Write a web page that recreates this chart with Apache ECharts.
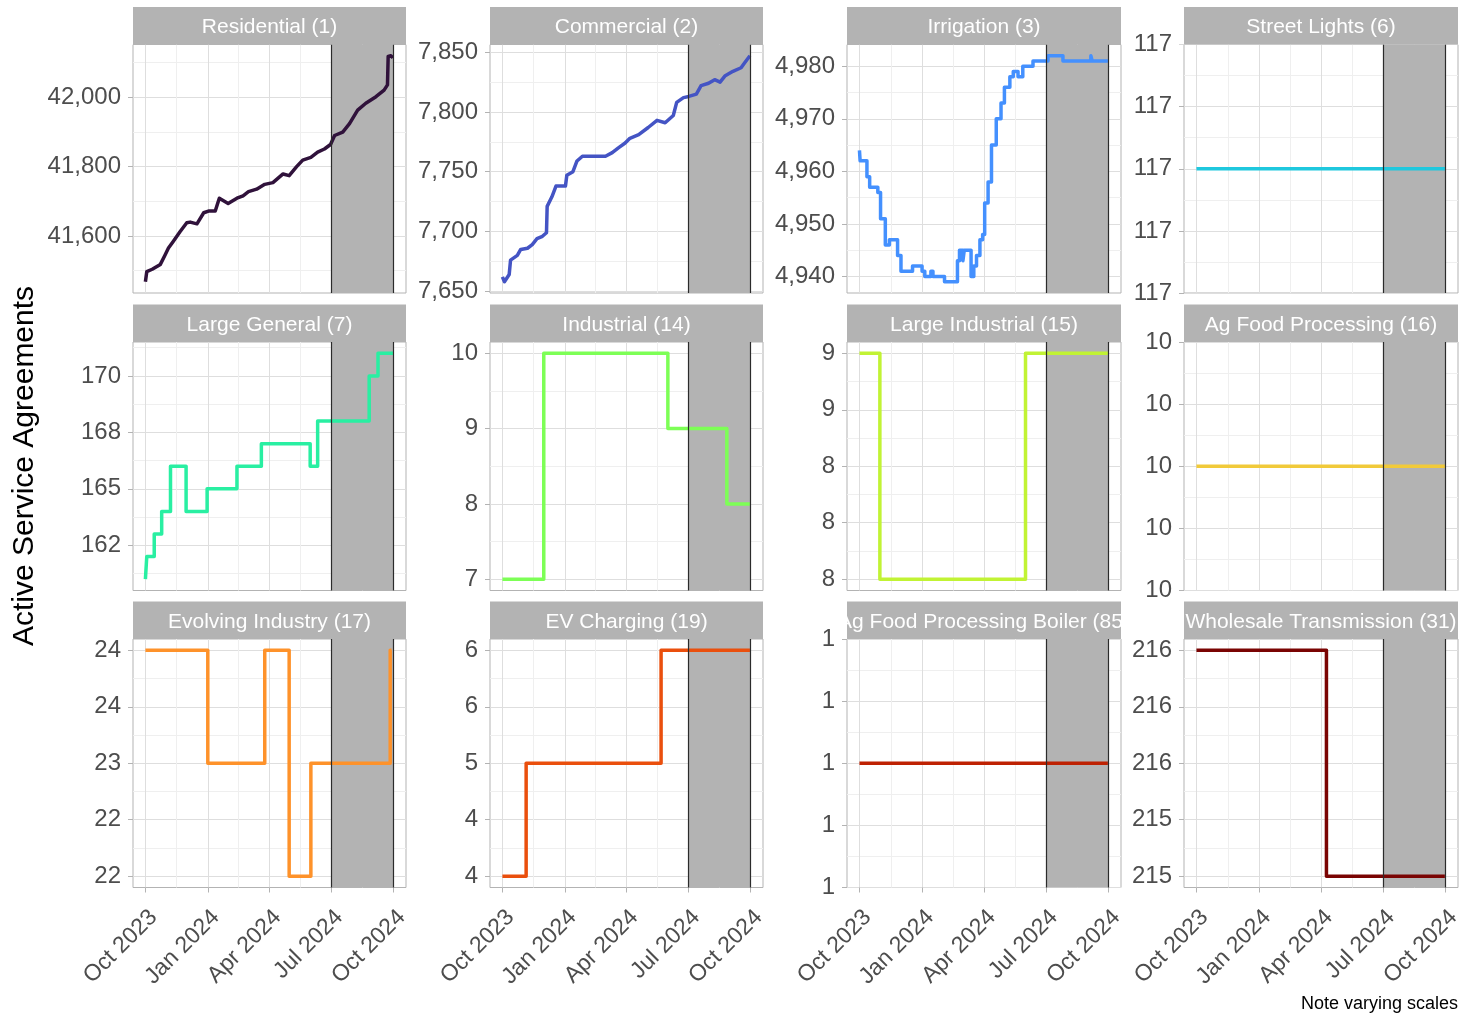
<!DOCTYPE html>
<html>
<head>
<meta charset="utf-8">
<title>Active Service Agreements</title>
<script src="https://cdn.jsdelivr.net/npm/echarts@6/dist/echarts.min.js"></script>
<style>
  html, body { margin: 0; padding: 0; background: #fff; }
  #chart { width: 1459px; height: 1015px; }
</style>
</head>
<body>
<div id="chart"></div>
<script>
// 每个费率类别的有效服务协议数（从图上读取的估值）
let residentialDates = ['2023-10-01', '2023-10-03', '2023-10-11', '2023-10-23', '2023-10-30', '2023-11-04', '2023-11-11', '2023-11-21', '2023-12-01', '2023-12-06', '2023-12-16', '2023-12-26', '2024-01-02', '2024-01-12', '2024-01-18', '2024-01-31', '2024-02-13', '2024-02-22', '2024-03-01', '2024-03-13', '2024-03-25', '2024-04-06', '2024-04-21', '2024-04-30', '2024-05-11', '2024-05-20', '2024-06-01', '2024-06-11', '2024-06-21', '2024-06-30', '2024-07-06', '2024-07-18', '2024-07-28', '2024-08-09', '2024-08-21', '2024-09-05', '2024-09-17', '2024-09-22', '2024-09-23', '2024-09-27', '2024-09-30']
let residentialValues = [41468, 41497, 41504, 41518, 41545, 41565, 41584, 41612, 41638, 41640, 41635, 41667, 41672, 41672, 41709, 41694, 41709, 41716, 41728, 41735, 41749, 41754, 41779, 41774, 41800, 41819, 41827, 41842, 41851, 41864, 41890, 41900, 41924, 41963, 41983, 42002, 42021, 42036, 42118, 42120, 42114]

let commercialDates = ['2023-10-01', '2023-10-04', '2023-10-11', '2023-10-13', '2023-10-23', '2023-10-28', '2023-11-07', '2023-11-14', '2023-11-21', '2023-11-29', '2023-12-05', '2023-12-06', '2023-12-13', '2023-12-19', '2024-01-02', '2024-01-04', '2024-01-13', '2024-01-19', '2024-01-27', '2024-02-05', '2024-02-15', '2024-03-01', '2024-03-11', '2024-03-20', '2024-03-30', '2024-04-06', '2024-04-19', '2024-05-03', '2024-05-16', '2024-05-28', '2024-06-09', '2024-06-14', '2024-06-24', '2024-07-02', '2024-07-13', '2024-07-20', '2024-07-31', '2024-08-09', '2024-08-17', '2024-08-24', '2024-09-05', '2024-09-17', '2024-09-22', '2024-09-30']
let commercialValues = [7662, 7658, 7664, 7676, 7680, 7685, 7686, 7689, 7694, 7696, 7699, 7721, 7729, 7738, 7738, 7747, 7750, 7759, 7763, 7763, 7763, 7763, 7766, 7770, 7774, 7778, 7781, 7787, 7793, 7791, 7797, 7808, 7812, 7813, 7815, 7822, 7824, 7827, 7825, 7830, 7834, 7837, 7841, 7847]

let irrigationDates = ['2023-10-01', '2023-10-02', '2023-10-12', '2023-10-16', '2023-10-28', '2023-11-01', '2023-11-08', '2023-11-14', '2023-11-26', '2023-12-01', '2023-12-18', '2024-01-01', '2024-01-05', '2024-01-14', '2024-01-17', '2024-02-03', '2024-02-22', '2024-02-25', '2024-03-01', '2024-03-03', '2024-03-13', '2024-03-17', '2024-03-21', '2024-03-26', '2024-03-30', '2024-04-02', '2024-04-07', '2024-04-12', '2024-04-19', '2024-04-26', '2024-05-01', '2024-05-09', '2024-05-14', '2024-05-21', '2024-05-28', '2024-06-12', '2024-07-04', '2024-07-26', '2024-09-05', '2024-09-07', '2024-09-30']
let irrigationValues = [4964, 4962, 4959, 4957, 4956, 4951, 4946, 4947, 4944, 4941, 4942, 4941, 4940, 4941, 4940, 4939, 4943, 4945, 4943, 4945, 4940, 4942, 4944, 4947, 4948, 4954, 4958, 4965, 4970, 4973, 4976, 4978, 4979, 4978, 4980, 4981, 4982, 4981, 4982, 4981, 4981]

let streetLightsDates = ['2023-10-01', '2024-09-30']
let streetLightsValues = [117, 117]

let largeGeneralDates = ['2023-10-01', '2023-10-03', '2023-10-14', '2023-10-25', '2023-11-07', '2023-11-30', '2023-12-31', '2024-02-13', '2024-03-20', '2024-05-31', '2024-06-11', '2024-08-26', '2024-09-08', '2024-09-30']
let largeGeneralValues = [161, 162, 163, 164, 166, 164, 165, 166, 167, 166, 168, 170, 171, 171]

let industrialDates = ['2023-10-01', '2023-12-01', '2024-06-01', '2024-08-27', '2024-09-30']
let industrialValues = [7, 10, 9, 8, 8]

let largeIndustrialDates = ['2023-10-01', '2023-10-31', '2024-06-01', '2024-09-30']
let largeIndustrialValues = [9, 8, 9, 9]

let agFoodDates = ['2023-10-01', '2024-09-30']
let agFoodValues = [10, 10]

let evolvingDates = ['2023-10-01', '2024-01-01', '2024-03-25', '2024-04-30', '2024-06-01', '2024-09-26', '2024-09-28']
let evolvingValues = [24, 23, 24, 22, 23, 24, 24]

let evChargingDates = ['2023-10-01', '2023-11-05', '2024-05-22', '2024-09-30']
let evChargingValues = [4, 5, 6, 6]

let agBoilerDates = ['2023-10-01', '2024-09-30']
let agBoilerValues = [1, 1]

let wholesaleDates = ['2023-10-01', '2024-04-09', '2024-09-30']
let wholesaleValues = [216, 215, 215]

// 分面标题、颜色、刻度
let panelNames = ['Residential (1)', 'Commercial (2)', 'Irrigation (3)', 'Street Lights (6)', 'Large General (7)', 'Industrial (14)', 'Large Industrial (15)', 'Ag Food Processing (16)', 'Evolving Industry (17)', 'EV Charging (19)', 'Ag Food Processing Boiler (85)', 'Wholesale Transmission (31)']
let panelColors = ['#30123B', '#4454C4', '#4490FE', '#1FC8DE', '#29EFA2', '#7DFF56', '#C1F334', '#F1CA3A', '#FE922A', '#EA4F0D', '#BE2102', '#7A0403']
let panelStep = [false, false, true, true, true, true, true, true, true, true, true, true]

let yTicks = [
  [41600, 41800, 42000],
  [7650, 7700, 7750, 7800, 7850],
  [4940, 4950, 4960, 4970, 4980],
  [116.5, 116.75, 117, 117.25, 117.5],
  [162.5, 165, 167.5, 170],
  [7, 8, 9, 10],
  [8, 8.25, 8.5, 8.75, 9],
  [9.5, 9.75, 10, 10.25, 10.5],
  [22, 22.5, 23, 23.5, 24],
  [4, 4.5, 5, 5.5, 6],
  [0.5, 0.75, 1, 1.25, 1.5],
  [215, 215.25, 215.5, 215.75, 216]
]
let yTickLabels = [
  ['41,600', '41,800', '42,000'],
  ['7,650', '7,700', '7,750', '7,800', '7,850'],
  ['4,940', '4,950', '4,960', '4,970', '4,980'],
  ['117', '117', '117', '117', '117'],
  ['162', '165', '168', '170'],
  ['7', '8', '9', '10'],
  ['8', '8', '8', '9', '9'],
  ['10', '10', '10', '10', '10'],
  ['22', '22', '23', '24', '24'],
  ['4', '4', '5', '6', '6'],
  ['1', '1', '1', '1', '1'],
  ['215', '215', '216', '216', '216']
]

let xTickDates = ['2023-10-01', '2024-01-01', '2024-04-01', '2024-07-01', '2024-10-01']
let xTickLabels = ['Oct 2023', 'Jan 2024', 'Apr 2024', 'Jul 2024', 'Oct 2024']
let xRangeDates = ['2023-10-01', '2024-10-01']
let shadeDates = ['2024-07-01', '2024-10-01']

let panelDates = [residentialDates, commercialDates, irrigationDates, streetLightsDates, largeGeneralDates, industrialDates, largeIndustrialDates, agFoodDates, evolvingDates, evChargingDates, agBoilerDates, wholesaleDates]
let panelValues = [residentialValues, commercialValues, irrigationValues, streetLightsValues, largeGeneralValues, industrialValues, largeIndustrialValues, agFoodValues, evolvingValues, evChargingValues, agBoilerValues, wholesaleValues]

// 版面
let colLeft = [133, 490, 847, 1184]
let colWidth = [273, 273, 274, 274]
let rowTop = [44.5, 342, 639]
let plotHeight = 248.5
let stripHeight = 37.5
let fontName = '"Liberation Sans", Arial, sans-serif'

function ts(d) {
  let p = d.split('-')
  return Date.UTC(+p[0], +p[1] - 1, +p[2])
}

// ggplot 式的次网格：相邻主刻度中点，并向两端各延伸半格
function minorOf(ticks, lo, hi) {
  let out = []
  for (let k = 0; k < ticks.length - 1; k++) out.push((ticks[k] + ticks[k + 1]) / 2)
  if (ticks.length > 1) {
    out.unshift(ticks[0] - (ticks[1] - ticks[0]) / 2)
    out.push(ticks[ticks.length - 1] + (ticks[ticks.length - 1] - ticks[ticks.length - 2]) / 2)
  }
  return out.filter(function (v) { return v > lo && v < hi })
}

let xStart = ts(xRangeDates[0])
let xEnd = ts(xRangeDates[1])
let xPad = (xEnd - xStart) * 0.05
let xMin = xStart - xPad
let xMax = xEnd + xPad
let xMajor = xTickDates.map(ts)
let xMinor = minorOf(xMajor, xMin, xMax)

let grids = []
let xAxes = []
let yAxes = []
let series = []
let graphics = []

panelNames.forEach(function (name, i) {
  let row = Math.floor(i / 4)
  let col = i % 4
  let left = colLeft[col]
  let width = colWidth[col]
  let top = rowTop[row]
  let values = panelValues[i]
  let lo = Math.min.apply(null, values)
  let hi = Math.max.apply(null, values)
  let yMin, yMax
  if (hi === lo) {
    yMin = lo - 0.5
    yMax = hi + 0.5
  } else {
    yMin = lo - (hi - lo) * 0.05
    yMax = hi + (hi - lo) * 0.05
  }
  let ticks = yTicks[i]
  let labels = yTickLabels[i]
  let bottomRow = row === 2

  grids.push({
    left: left,
    top: top,
    width: width,
    height: plotHeight,
    containLabel: false,
    outerBoundsMode: 'none',
    show: true,
    borderColor: '#b3b3b3',
    borderWidth: 1
  })

  // 主 x 轴（刻度、标签、主网格）
  xAxes.push({
    gridIndex: i,
    type: 'value',
    min: xMin,
    max: xMax,
    position: 'bottom',
    axisLine: { show: false },
    axisTick: { show: bottomRow, length: 5, lineStyle: { color: '#b3b3b3' }, customValues: xMajor },
    axisLabel: {
      show: bottomRow,
      customValues: xMajor,
      rotate: 45,
      align: 'right',
      verticalAlign: 'top',
      margin: 18,
      fontSize: 23,
      fontFamily: fontName,
      color: '#4d4d4d',
      formatter: function (v) {
        let k = xMajor.indexOf(v)
        return k >= 0 ? xTickLabels[k] : ''
      }
    },
    splitLine: { show: true, lineStyle: { color: '#dedede', width: 1 } }
  })
  // 次 x 轴（只画次网格）
  xAxes.push({
    gridIndex: i,
    type: 'value',
    min: xMin,
    max: xMax,
    axisLine: { show: false },
    axisTick: { show: false, customValues: xMinor },
    axisLabel: { show: false },
    splitLine: { show: true, lineStyle: { color: '#efefef', width: 1 } }
  })

  yAxes.push({
    gridIndex: i,
    type: 'value',
    min: yMin,
    max: yMax,
    position: 'left',
    axisLine: { show: false },
    axisTick: { show: true, length: 5, lineStyle: { color: '#b3b3b3' }, customValues: ticks },
    axisLabel: {
      customValues: ticks,
      showMinLabel: true,
      showMaxLabel: true,
      margin: 12,
      padding: [4, 0, 0, 0],
      fontSize: 24,
      fontFamily: fontName,
      color: '#4d4d4d',
      formatter: function (v) {
        for (let k = 0; k < ticks.length; k++) {
          if (Math.abs(ticks[k] - v) < 1e-9) return labels[k]
        }
        return ''
      }
    },
    splitLine: { show: true, lineStyle: { color: '#dedede', width: 1 } }
  })
  yAxes.push({
    gridIndex: i,
    type: 'value',
    min: yMin,
    max: yMax,
    axisLine: { show: false },
    axisTick: { show: false, customValues: minorOf(ticks, yMin, yMax) },
    axisLabel: { show: false },
    splitLine: { show: true, lineStyle: { color: '#efefef', width: 1 } }
  })

  series.push({
    name: name,
    type: 'line',
    xAxisIndex: 2 * i,
    yAxisIndex: 2 * i,
    data: panelDates[i].map(function (d, k) { return [ts(d), values[k]] }),
    step: panelStep[i] ? 'end' : false,
    symbol: 'none',
    showSymbol: false,
    z: 3,
    lineStyle: { color: panelColors[i], width: 3.5, cap: 'butt', join: 'round' },
    itemStyle: { color: panelColors[i] },
    markArea: {
      silent: true,
      itemStyle: { color: '#b3b3b3', opacity: 1 },
      data: [[{ xAxis: ts(shadeDates[0]) }, { xAxis: ts(shadeDates[1]) }]]
    },
    markLine: {
      silent: true,
      symbol: ['none', 'none'],
      label: { show: false },
      lineStyle: { color: '#2b2b2b', width: 1.2, type: 'solid' },
      data: [{ xAxis: ts(shadeDates[0]) }, { xAxis: ts(shadeDates[1]) }]
    }
  })

  // 分面标题条
  let stripTop = top - stripHeight
  graphics.push({
    type: 'rect',
    z: 100,
    shape: { x: left, y: stripTop, width: width, height: stripHeight },
    style: { fill: '#b3b3b3' }
  })
  graphics.push({
    type: 'text',
    z: 101,
    x: left + width / 2,
    y: stripTop + stripHeight / 2 + 1.5,
    style: {
      text: name,
      fill: '#ffffff',
      fontSize: 21,
      fontFamily: fontName,
      textAlign: 'center',
      textVerticalAlign: 'middle'
    }
  })
  // 标题溢出部分被裁掉
  graphics.push({
    type: 'rect',
    z: 102,
    shape: { x: left - 10, y: stripTop, width: 10, height: stripHeight },
    style: { fill: '#ffffff' }
  })
  graphics.push({
    type: 'rect',
    z: 102,
    shape: { x: left + width, y: stripTop, width: 10, height: stripHeight },
    style: { fill: '#ffffff' }
  })
})

graphics.push({
  type: 'text',
  z: 101,
  x: 25,
  y: 466,
  rotation: Math.PI / 2,
  style: {
    text: 'Active Service Agreements',
    fill: '#000000',
    fontSize: 30,
    fontFamily: fontName,
    textAlign: 'center',
    textVerticalAlign: 'middle'
  }
})
graphics.push({
  type: 'text',
  z: 101,
  x: 1458,
  y: 1004,
  style: {
    text: 'Note varying scales',
    fill: '#000000',
    fontSize: 18,
    fontFamily: fontName,
    textAlign: 'right',
    textVerticalAlign: 'middle'
  }
})

let chart = echarts.init(document.getElementById('chart'), null, { renderer: 'canvas' })
chart.setOption({
  backgroundColor: '#ffffff',
  animation: false,
  grid: grids,
  xAxis: xAxes,
  yAxis: yAxes,
  series: series,
  graphic: graphics
})
</script>
</body>
</html>
